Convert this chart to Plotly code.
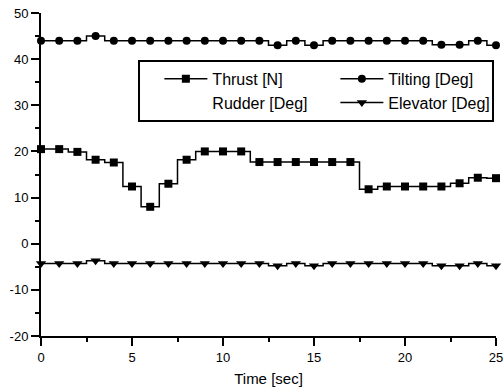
import plotly.graph_objects as go

# Time base (s)
time_s = list(range(26))

# Measured signals
thrust_n = [20.5, 20.5, 19.9, 18.2, 17.6, 12.4, 8.0, 13.0, 18.2, 20.0, 20.0, 20.0, 17.7,
            17.7, 17.7, 17.7, 17.7, 17.7, 11.8, 12.4, 12.4, 12.4, 12.4, 13.1, 14.3, 14.2]
tilting_deg = [44, 44, 44, 45, 44, 44, 44, 44, 44, 44, 44, 44, 44,
               43, 44, 43, 44, 44, 44, 44, 44, 44, 43.1, 43.1, 44, 43]
rudder_deg = [None]  # no rudder samples logged in this run
elevator_deg = [-4.3, -4.3, -4.3, -3.7, -4.3, -4.3, -4.3, -4.3, -4.3, -4.3, -4.3, -4.3, -4.3,
                -4.8, -4.3, -4.8, -4.3, -4.3, -4.3, -4.3, -4.3, -4.3, -4.8, -4.8, -4.3, -4.8]

x_tick_vals = [0, 5, 10, 15, 20, 25]
y_tick_vals = [-20, -10, 0, 10, 20, 30, 40, 50]
y_tick_text = ["-20", "-10", "0", "10", "20", "30", "40", "50"]

FONT = "Arial, Liberation Sans, Helvetica, sans-serif"
INK = "black"

fig = go.Figure()

line_style = dict(color=INK, width=1.5, shape="hvh")

fig.add_trace(go.Scatter(x=time_s, y=thrust_n, name="Thrust [N]", mode="lines+markers",
                         line=line_style, marker=dict(symbol="square", size=8, color=INK),
                         cliponaxis=False))
fig.add_trace(go.Scatter(x=time_s, y=tilting_deg, name="Tilting [Deg]", mode="lines+markers",
                         line=line_style, marker=dict(symbol="circle", size=8, color=INK),
                         cliponaxis=False))
fig.add_trace(go.Scatter(x=time_s[:len(rudder_deg)], y=rudder_deg, name="Rudder [Deg]",
                         mode="lines", line=dict(color=INK, width=0)))
fig.add_trace(go.Scatter(x=time_s, y=elevator_deg, name="Elevator [Deg]", mode="lines+markers",
                         line=line_style, marker=dict(symbol="triangle-down", size=9, color=INK),
                         cliponaxis=False))

axis_common = dict(
    showgrid=False, zeroline=False, showline=True, linecolor=INK, linewidth=2,
    ticks="outside", ticklen=8, tickwidth=2, tickcolor=INK,
    tickfont=dict(family=FONT, size=13, color=INK),
    mirror=False, automargin=False,
)

fig.update_xaxes(range=[0, 25], tickvals=x_tick_vals, ticklabeloverflow="allow",
                 minor=dict(dtick=2.5, tick0=0, ticks="outside", ticklen=4, tickwidth=2, tickcolor=INK),
                 title=dict(text="Time [sec]", font=dict(family=FONT, size=15, color=INK), standoff=10),
                 **axis_common)
fig.update_yaxes(range=[-20, 50], tickvals=y_tick_vals, ticktext=y_tick_text,
                 minor=dict(dtick=5, tick0=0, ticks="outside", ticklen=4, tickwidth=2, tickcolor=INK),
                 **axis_common)

fig.update_layout(
    width=503, height=390,
    margin=dict(l=41, r=7, t=13, b=54),
    plot_bgcolor="white", paper_bgcolor="white",
    font=dict(family=FONT, color=INK),
    showlegend=True,
    legend=dict(
        orientation="h", x=0.214, y=0.855, xanchor="left", yanchor="top",
        bordercolor=INK, borderwidth=2, bgcolor="white",
        font=dict(family=FONT, size=16, color=INK),
        itemwidth=43, entrywidth=99, entrywidthmode="pixels",
        indentation=19, tracegroupgap=0,
        traceorder="normal",
    ),
)

fig.write_html("out.html")
